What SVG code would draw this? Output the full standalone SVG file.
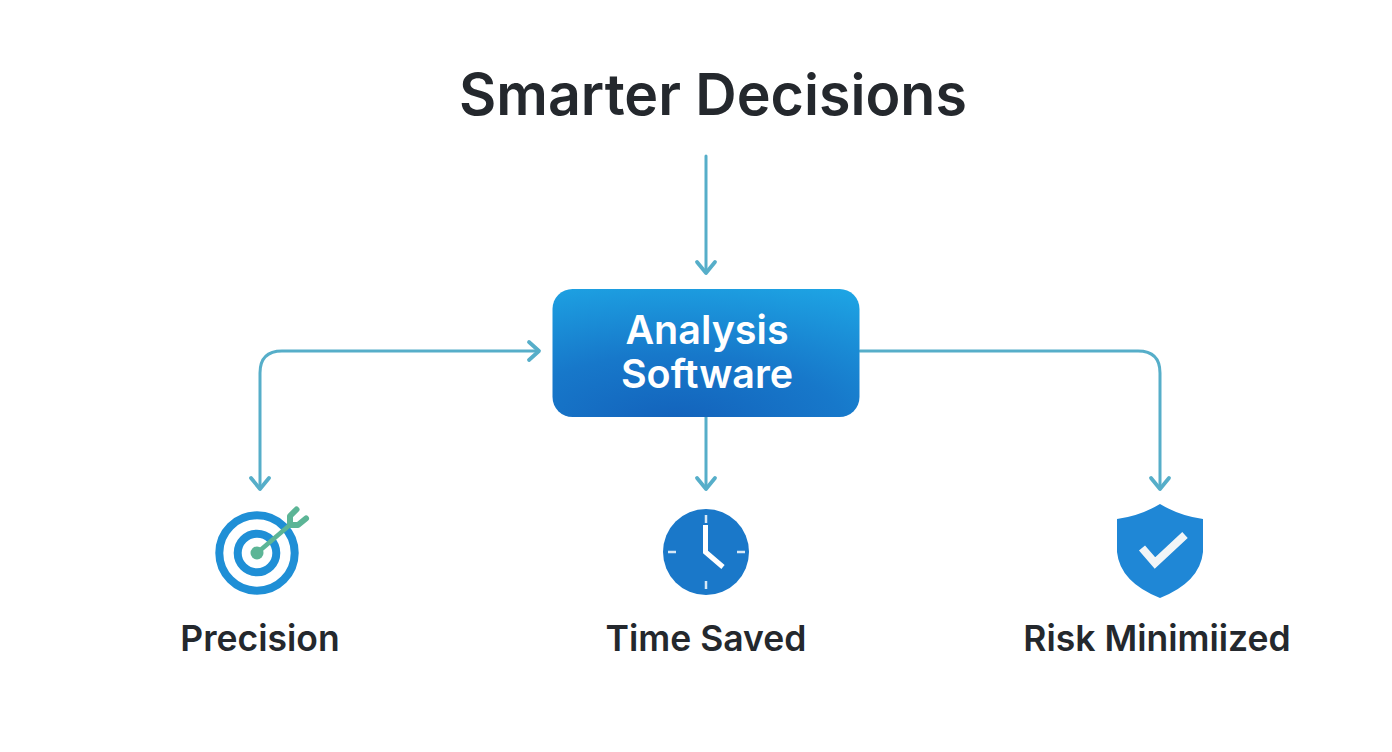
<svg xmlns="http://www.w3.org/2000/svg" width="1392" height="752" viewBox="0 0 1392 752">
<style>
.t{font-family:Inter,"Liberation Sans",sans-serif;font-weight:600;fill:#24282d;text-anchor:middle}
.lbl{font-size:35.500px}
.c{fill:none;stroke:#56aec9;stroke-width:3;stroke-linecap:round;stroke-linejoin:round}
.h{stroke-width:3.800}
.bt{font-family:Inter,"Liberation Sans",sans-serif;font-weight:600;font-size:39.500px;fill:#fff;text-anchor:middle}
</style>
<defs>
<radialGradient id="g" cx="0.4" cy="1.05" r="1.2">
<stop offset="0" stop-color="#1362bb"/><stop offset="0.45" stop-color="#1778ca"/><stop offset="1" stop-color="#1ea6e5"/>
</radialGradient>
</defs>
<rect width="1392" height="752" fill="#fff"/>
<g id="connectors">
<path class="c" d="M706 156V272"/><path class="c h" d="M697 262L706 273L715 262"/>
<path class="c" d="M538 351H282Q260 351 260 373V488"/><path class="c h" d="M251 478L260 489L269 478"/>
<path class="c h" d="M529 342L539 351L529 360"/>
<path class="c" d="M706 417V488"/><path class="c h" d="M697 478L706 489L715 478"/>
<path class="c" d="M860 351H1138Q1160 351 1160 373V488"/><path class="c h" d="M1151 478L1160 489L1169 478"/>
</g>
<g id="title"><text class="t" x="713" y="115" font-size="57.300">Smarter Decisions</text></g>
<g id="analysis">
<rect x="552.500" y="289" width="307" height="128" rx="20" fill="url(#g)"/>
<text class="bt" x="707" y="344">Analysis</text>
<text class="bt" x="707" y="388">Software</text>
</g>
<g id="precision">
<circle cx="257" cy="553" r="37.700" fill="none" stroke="#1f8fd6" stroke-width="8"/>
<circle cx="257" cy="553" r="19.300" fill="none" stroke="#1f8fd6" stroke-width="8"/>
<path d="M257 553L291 524" stroke="#5cb596" stroke-width="4.500" fill="none"/>
<circle cx="257" cy="553" r="6.500" fill="#5cb596"/>
<path d="M290 525L290 516L296.500 509.500M290 525L298 525L306 518.500" stroke="#5cb596" stroke-width="6" fill="none" stroke-linecap="round" stroke-linejoin="round"/>
<text class="t lbl" x="260" y="651">Precision</text>
</g>
<g id="time">
<circle cx="706" cy="552" r="43" fill="#1a78c9"/>
<path d="M706 515V523M706 581V589M668 552H676M737 552H745" stroke="#d7e8f6" stroke-width="2.500" fill="none"/>
<path d="M705.500 525V552L723 567" stroke="#fff" stroke-width="5" fill="none"/>
<text class="t lbl" x="706" y="651">Time Saved</text>
</g>
<g id="risk">
<path d="M1160 504Q1140 516 1117 519V552Q1120 582 1160 598Q1200 582 1203 552V519Q1180 516 1160 504Z" fill="#1f87d6"/>
<path d="M1142 548L1155 563L1185 535" stroke="#f2f5f7" stroke-width="8" fill="none"/>
<text class="t lbl" x="1157" y="651">Risk Minimiized</text>
</g>
</svg>
